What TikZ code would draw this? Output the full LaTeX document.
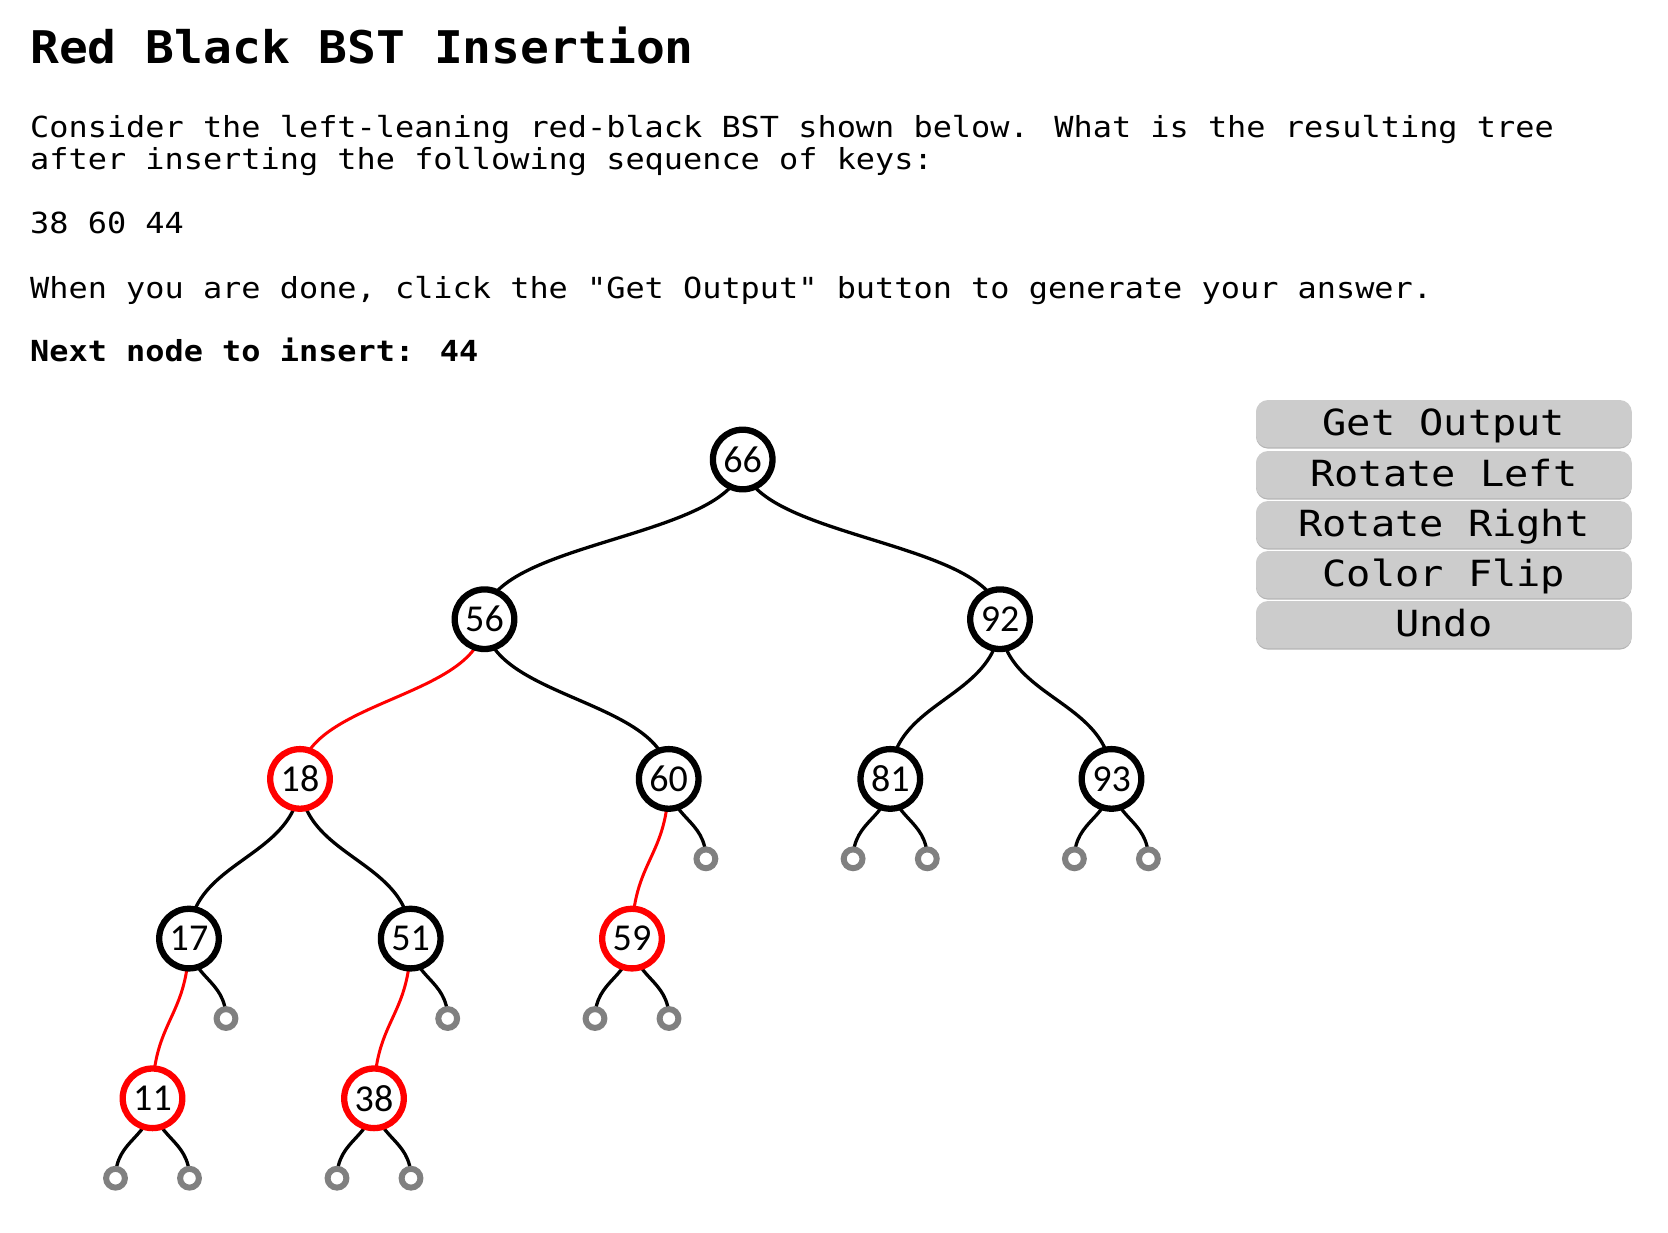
\documentclass[tikz,border=0pt]{standalone}
\usepackage{fontspec}
\usetikzlibrary{calc}
\newfontfamily\titlefont[FakeStretch=1.065]{DejaVu Sans Mono}
\newfontfamily\bodyfont[FakeStretch=1.1]{DejaVu Sans Mono}
\newfontfamily\btnfont[FakeStretch=1.12]{DejaVu Sans Mono}
\newfontfamily\keyfont{Carlito}
\definecolor{rbred}{RGB}{255,0,0}
\definecolor{nullgray}{RGB}{128,128,128}
\definecolor{btnfill}{RGB}{204,204,204}
\definecolor{btnshade}{RGB}{180,180,180}
\pgfdeclarelayer{paper}
\pgfdeclarelayer{edges}
\pgfsetlayers{paper,edges,main}
\tikzset{
 txt/.style={anchor=base west, inner sep=0pt, font=\bodyfont\fontsize{29}{32}\selectfont},
 blacknode/.style={circle, draw=black, line width=6.3pt, fill=white, minimum size=59.6pt, inner sep=0pt, font=\keyfont\fontsize{38}{40}\selectfont},
 rednode/.style={blacknode, draw=rbred},
 nullnode/.style={circle, draw=nullgray, line width=6pt, fill=white, minimum size=18.8pt, inner sep=0pt},
 blackedge/.style={draw=black, line width=3.3pt},
 rededge/.style={draw=rbred, line width=3pt},
 btnbase/.style={rectangle, rounded corners=12pt, minimum width=375.7pt, minimum height=47.4pt, inner sep=0pt},
 btn/.style={btnbase, fill=btnfill, text height=30pt, text depth=6pt, font=\btnfont\fontsize{36}{40}\selectfont},
 btnshadow/.style={btnbase, fill=btnshade},
}
\newcommand\rbedge[4]{%
  \draw[#4] (#1.center) .. controls ($(#1.center)+(0,#3)$) and ($(#2.center)-(0,#3)$) .. (#2.center);}
\begin{document}
\begin{tikzpicture}[x=1pt,y=-1pt]
\useasboundingbox (0,0) rectangle (1668,1232);
\begin{pgfonlayer}{paper}
\fill[white] (0,0) rectangle (1668,1232);
\end{pgfonlayer}

% texts
\node[anchor=base west, inner sep=0pt, font=\titlefont\bfseries\fontsize{45}{50}\selectfont] (title) at (30,63.3) {Red Black BST Insertion};
\node[txt] (l1) at (30,137.7) {Consider the left-leaning red-black BST shown below. What is the resulting tree};
\node[txt] (l2) at (30,169.3) {after inserting the following sequence of keys:};
\node[txt] (l3) at (30,233) {38 60 44};
\node[txt] (l4) at (30,298.3) {When you are done, click the "Get Output" button to generate your answer.};
\node[txt, font=\bodyfont\bfseries\fontsize{29}{32}\selectfont] (l5) at (30,361.7) {Next node to insert: 44};

% buttons
\foreach \lab/\yy [count=\i] in {Get Output/400, Rotate Left/451, Rotate Right/501, Color Flip/551, Undo/601}{
  \node[btnshadow] (bs\i) at (1443.85,\yy+24.9) {};
  \node[btn] (b\i) at (1443.85,\yy+23.7) {\lab};
}

% tree nodes
\node[blacknode] (n66) at (742.7,459.5) {66};
\node[blacknode] (n56) at (484.5,619.2) {56};
\node[blacknode] (n92) at (1000,619.2) {92};
\node[rednode]   (n18) at (300,778.9) {18};
\node[blacknode] (n60) at (668.7,778.9) {60};
\node[blacknode] (n81) at (890.3,778.9) {81};
\node[blacknode] (n93) at (1111.5,778.9) {93};
\node[blacknode] (n17) at (189,938.6) {17};
\node[blacknode] (n51) at (410.7,938.6) {51};
\node[rednode]   (n59) at (632,938.6) {59};
\node[rednode]   (n11) at (152.5,1098.3) {11};
\node[rednode]   (n38) at (374,1098.3) {38};

% null links
\node[nullnode] (z60r) at (705.9,858.8) {};
\node[nullnode] (z81l) at (853.1,858.8) {};
\node[nullnode] (z81r) at (927.3,858.8) {};
\node[nullnode] (z93l) at (1074.4,858.8) {};
\node[nullnode] (z93r) at (1148.4,858.8) {};
\node[nullnode] (z17r) at (226,1018.5) {};
\node[nullnode] (z51r) at (447.7,1018.5) {};
\node[nullnode] (z59l) at (595,1018.5) {};
\node[nullnode] (z59r) at (669,1018.5) {};
\node[nullnode] (z11l) at (115.5,1178.2) {};
\node[nullnode] (z11r) at (189.5,1178.2) {};
\node[nullnode] (z38l) at (337,1178.2) {};
\node[nullnode] (z38r) at (411,1178.2) {};

\begin{pgfonlayer}{edges}
\rbedge{n66}{n56}{79.85}{blackedge}
\rbedge{n66}{n92}{79.85}{blackedge}
\rbedge{n56}{n18}{79.85}{rededge}
\rbedge{n56}{n60}{79.85}{blackedge}
\rbedge{n92}{n81}{79.85}{blackedge}
\rbedge{n92}{n93}{79.85}{blackedge}
\rbedge{n18}{n17}{79.85}{blackedge}
\rbedge{n18}{n51}{79.85}{blackedge}
\rbedge{n60}{n59}{79.85}{rededge}
\rbedge{n17}{n11}{79.85}{rededge}
\rbedge{n51}{n38}{79.85}{rededge}
\rbedge{n60}{z60r}{40}{blackedge}
\rbedge{n81}{z81l}{40}{blackedge}
\rbedge{n81}{z81r}{40}{blackedge}
\rbedge{n93}{z93l}{40}{blackedge}
\rbedge{n93}{z93r}{40}{blackedge}
\rbedge{n17}{z17r}{40}{blackedge}
\rbedge{n51}{z51r}{40}{blackedge}
\rbedge{n59}{z59l}{40}{blackedge}
\rbedge{n59}{z59r}{40}{blackedge}
\rbedge{n11}{z11l}{40}{blackedge}
\rbedge{n11}{z11r}{40}{blackedge}
\rbedge{n38}{z38l}{40}{blackedge}
\rbedge{n38}{z38r}{40}{blackedge}
\end{pgfonlayer}
\end{tikzpicture}
\end{document}
